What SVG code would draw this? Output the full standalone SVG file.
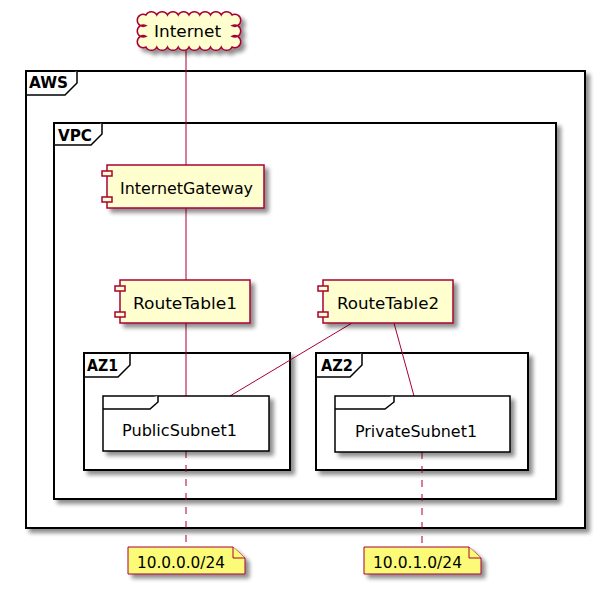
<svg xmlns="http://www.w3.org/2000/svg" width="597" height="590" viewBox="0 0 597 590">
<defs>
<filter id="sh" x="-10%" y="-10%" width="130%" height="140%">
<feGaussianBlur in="SourceAlpha" stdDeviation="2"/>
<feOffset dx="4" dy="4" result="b"/>
<feComponentTransfer><feFuncA type="linear" slope="0.45"/></feComponentTransfer>
<feMerge><feMergeNode/><feMergeNode in="SourceGraphic"/></feMerge>
</filter>
</defs>
<style>
.frameBg{fill:#fff;stroke:#000;stroke-width:2}
.tab{fill:#fff;stroke:#000;stroke-width:1.5}
.ftxt{font-family:"DejaVu Sans",sans-serif;font-size:15px;font-weight:bold;fill:#000}
.comp{fill:#FEFECE;stroke:#A80036;stroke-width:1.5}
.txt{font-family:"DejaVu Sans",sans-serif;font-size:16px;fill:#000}
.folder{fill:#fff;stroke:#000;stroke-width:1.5}
.note{fill:#FBFB77;stroke:#A80036;stroke-width:1}
.ntxt{font-family:"DejaVu Sans",sans-serif;font-size:15px;fill:#000}
.ln{fill:none;stroke:#A80036;stroke-width:1}
.dash{fill:none;stroke:#A80036;stroke-width:1;stroke-dasharray:7,7}
</style>

<g id="AWS">
<rect class="frameBg" x="26" y="71" width="559" height="457" filter="url(#sh)"/>
<path class="tab" d="M26,95 H65 L77,83 V71"/>
<text class="ftxt" x="29" y="88" textLength="39" lengthAdjust="spacingAndGlyphs">AWS</text>
</g>
<g id="VPC">
<rect class="frameBg" x="54" y="123" width="502" height="376" filter="url(#sh)"/>
<path class="tab" d="M54,145 H91 L102,134 V123"/>
<text class="ftxt" x="58" y="141" textLength="34" lengthAdjust="spacingAndGlyphs">VPC</text>
</g>
<g id="AZ1">
<rect class="frameBg" x="84" y="353" width="206" height="117" filter="url(#sh)"/>
<path class="tab" d="M84,377 H118 L130,365 V353"/>
<text class="ftxt" x="87" y="371" textLength="31" lengthAdjust="spacingAndGlyphs">AZ1</text>
</g>
<g id="AZ2">
<rect class="frameBg" x="316" y="353" width="212" height="117" filter="url(#sh)"/>
<path class="tab" d="M316,377 H350 L362,365 V353"/>
<text class="ftxt" x="321" y="371" textLength="32" lengthAdjust="spacingAndGlyphs">AZ2</text>
</g>

<g id="connectors">
<line class="ln" x1="186" y1="50" x2="186" y2="165"/>
<line class="ln" x1="186" y1="208" x2="186" y2="280"/>
<line class="ln" x1="186" y1="323" x2="186" y2="396"/>
<line class="ln" x1="352" y1="323" x2="230" y2="396"/>
<line class="ln" x1="394" y1="323" x2="414" y2="396"/>
<line class="dash" x1="186" y1="451" x2="186" y2="547"/>
<line class="dash" x1="422" y1="452" x2="422" y2="547"/>
</g>

<g id="Internet">
<path class="comp" filter="url(#sh)" d="M146,15 a6,6 0 0 1 10.75,0 a6,6 0 0 1 10.75,0 a6,6 0 0 1 10.75,0 a6,6 0 0 1 10.75,0 a6,6 0 0 1 10.75,0 a6,6 0 0 1 10.75,0 a6,6 0 0 1 10.75,0 a6,6 0 0 1 10.75,0 a6,6 0 1 1 0,10.67 a6,6 0 1 1 0,10.67 a6,6 0 1 1 0,10.67 a6,6 0 0 1 -10.75,0 a6,6 0 0 1 -10.75,0 a6,6 0 0 1 -10.75,0 a6,6 0 0 1 -10.75,0 a6,6 0 0 1 -10.75,0 a6,6 0 0 1 -10.75,0 a6,6 0 0 1 -10.75,0 a6,6 0 0 1 -10.75,0 a6,6 0 1 1 0,-10.67 a6,6 0 1 1 0,-10.67 a6,6 0 1 1 0,-10.67 Z"/>
<text class="txt" x="154" y="37" textLength="67" lengthAdjust="spacingAndGlyphs">Internet</text>
</g>

<g id="InternetGateway">
<rect class="comp" x="107" y="165" width="157" height="43" filter="url(#sh)"/>
<rect class="comp" x="102" y="171" width="10" height="5"/>
<rect class="comp" x="102" y="197" width="10" height="5"/>
<text class="txt" x="120" y="194" textLength="133" lengthAdjust="spacingAndGlyphs">InternetGateway</text>
</g>

<g id="RouteTable1">
<rect class="comp" x="120" y="280" width="130" height="43" filter="url(#sh)"/>
<rect class="comp" x="115" y="286" width="10" height="5"/>
<rect class="comp" x="115" y="312" width="10" height="5"/>
<text class="txt" x="133" y="309" textLength="104" lengthAdjust="spacingAndGlyphs">RouteTable1</text>
</g>

<g id="RouteTable2">
<rect class="comp" x="323" y="280" width="130" height="43" filter="url(#sh)"/>
<rect class="comp" x="318" y="286" width="10" height="5"/>
<rect class="comp" x="318" y="312" width="10" height="5"/>
<text class="txt" x="337" y="309" textLength="102" lengthAdjust="spacingAndGlyphs">RouteTable2</text>
</g>

<g id="PublicSubnet1">
<rect class="folder" x="103" y="396" width="166" height="55" filter="url(#sh)"/>
<path class="folder" d="M103,409 H150 L158,402 V396"/>
<text class="txt" x="122" y="436" textLength="115" lengthAdjust="spacingAndGlyphs">PublicSubnet1</text>
</g>

<g id="PrivateSubnet1">
<rect class="folder" x="335" y="396" width="175" height="56" filter="url(#sh)"/>
<path class="folder" d="M335,409 H385 L394,402 V396"/>
<text class="txt" x="355" y="437" textLength="122" lengthAdjust="spacingAndGlyphs">PrivateSubnet1</text>
</g>

<g id="note1">
<path class="note" filter="url(#sh)" d="M128,547 H233 L245,558 V574 H128 Z"/>
<path class="note" d="M233,547 V558 H245"/>
<text class="ntxt" x="137" y="568" textLength="88" lengthAdjust="spacingAndGlyphs">10.0.0.0/24</text>
</g>
<g id="note2">
<path class="note" filter="url(#sh)" d="M364,547 H469 L481,558 V574 H364 Z"/>
<path class="note" d="M469,547 V558 H481"/>
<text class="ntxt" x="373" y="568" textLength="89" lengthAdjust="spacingAndGlyphs">10.0.1.0/24</text>
</g>
</svg>
